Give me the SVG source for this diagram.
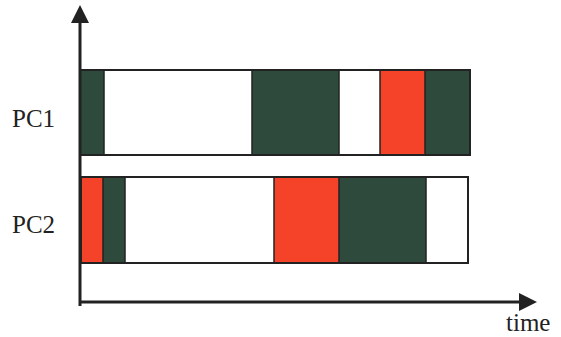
<svg xmlns="http://www.w3.org/2000/svg" width="561" height="337" viewBox="0 0 561 337">
<style>
.g{fill:#2d4a3c}.r{fill:#f5432a}.w{fill:#fff}
.bar{fill:none;stroke:#222;stroke-width:2}
.sep{stroke:#222;stroke-width:1.5}
.lbl{font-family:"Liberation Serif",serif;font-size:25px;fill:#222}
.ax{stroke:#222;stroke-width:3;fill:none}
</style>
<defs>
<marker id="ah" markerWidth="6" markerHeight="6" refX="3" refY="3" orient="auto" markerUnits="strokeWidth">
<path d="M0,0 L6,3 L0,6 Z" fill="#222"/>
</marker>
</defs>
<rect width="561" height="337" fill="#fff"/>
<g id="pc1">
<rect class="g" x="80" y="70" width="24" height="85"/>
<rect class="w" x="104" y="70" width="148" height="85"/>
<rect class="g" x="252" y="70" width="87" height="85"/>
<rect class="w" x="339" y="70" width="41" height="85"/>
<rect class="r" x="380" y="70" width="45" height="85"/>
<rect class="g" x="425" y="70" width="45" height="85"/>
<path class="sep" d="M104,70V155M252,70V155M339,70V155M380,70V155M425,70V155"/>
<rect class="bar" x="80" y="70" width="390" height="85"/>
<text class="lbl" x="12" y="127">PC1</text>
</g>
<g id="pc2">
<rect class="r" x="82" y="177" width="21" height="86"/>
<rect class="g" x="103" y="177" width="22" height="86"/>
<rect class="w" x="125" y="177" width="149" height="86"/>
<rect class="r" x="274" y="177" width="65" height="86"/>
<rect class="g" x="339" y="177" width="87" height="86"/>
<rect class="w" x="426" y="177" width="42" height="86"/>
<path class="sep" d="M103,177V263M125,177V263M274,177V263M339,177V263M426,177V263"/>
<rect class="bar" x="81" y="177" width="387" height="86"/>
<text class="lbl" x="12" y="233">PC2</text>
</g>
<g id="connectors">
<path class="ax" d="M80,306V14" marker-end="url(#ah)"/>
<path class="ax" d="M80,302H528" marker-end="url(#ah)"/>
</g>
<text class="lbl" x="506" y="331">time</text>
</svg>
